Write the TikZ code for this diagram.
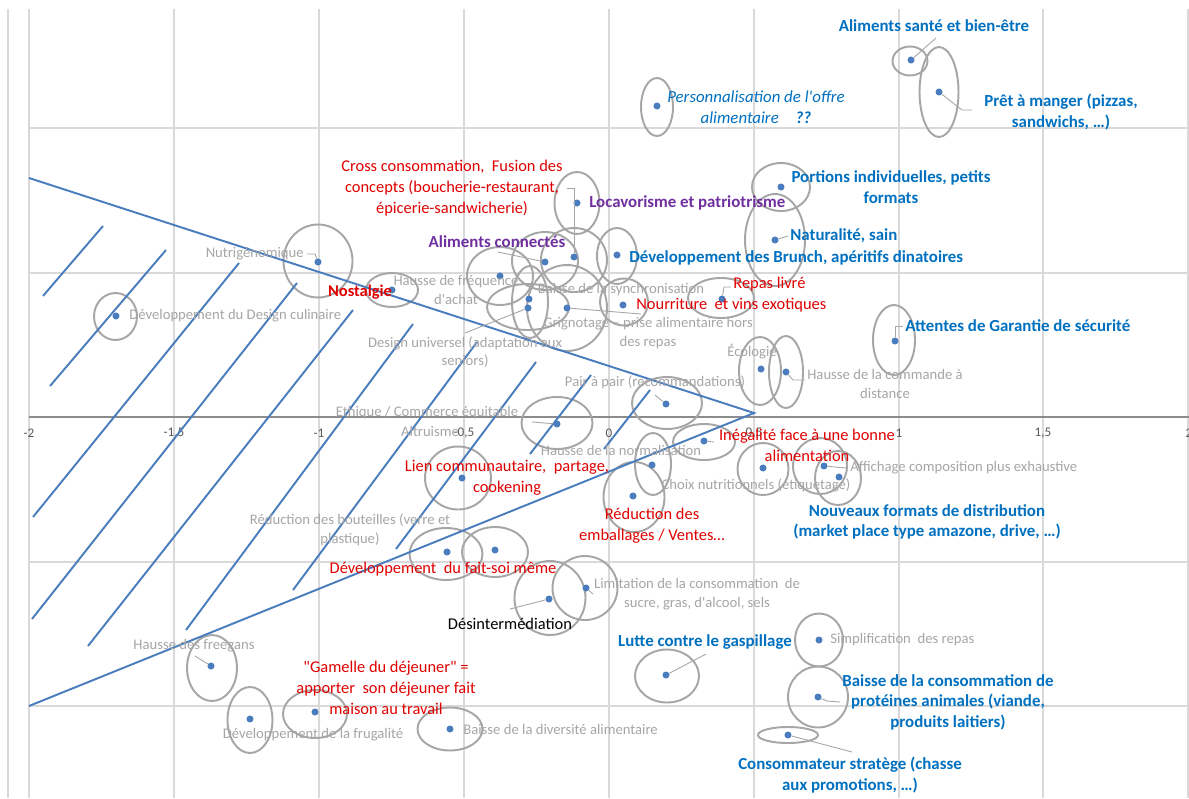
\documentclass[tikz,border=0pt]{standalone}
\usepackage{fontspec}
\setmainfont{Carlito}
\usepackage{xcolor}
\usepackage{tikz}
\usetikzlibrary{positioning}
\definecolor{gridgray}{HTML}{D9D9D9}
\definecolor{axisgray}{HTML}{8C8C8C}
\definecolor{ringgray}{HTML}{A6A6A6}
\definecolor{dotblue}{HTML}{4A7DBE}
\definecolor{trendblue}{HTML}{0070C0}
\definecolor{trendred}{HTML}{E00000}
\definecolor{trendpurple}{HTML}{7030A0}
\definecolor{labgray}{HTML}{A6A6A6}
\definecolor{ticktext}{HTML}{595959}
\tikzset{
  gridl/.style = {draw=gridgray, line width=0.6pt},
  axisl/.style = {draw=axisgray, line width=0.7pt},
  ring/.style  = {draw=ringgray, line width=1.1pt},
  hatch/.style = {draw=dotblue, line width=1.1pt},
  lead/.style  = {draw=ringgray, line width=0.5pt},
  pt/.style    = {circle, fill=dotblue, inner sep=0pt, minimum size=4pt},
  blab/.style  = {align=center, inner sep=0pt, text=trendblue,
                  font=\fontsize{9.6}{11.7}\selectfont\bfseries},
  plab/.style  = {align=center, inner sep=0pt, text=trendpurple,
                  font=\fontsize{9.6}{11.7}\selectfont\bfseries},
  rlab/.style  = {align=center, inner sep=0pt, text=trendred,
                  font=\fontsize{9.35}{11.8}\selectfont},
  klab/.style  = {align=center, inner sep=0pt, text=black,
                  font=\fontsize{9.35}{11.8}\selectfont},
  glab/.style  = {align=center, inner sep=0pt, text=labgray,
                  font=\fontsize{8.35}{10.6}\selectfont},
  tlab/.style  = {inner sep=0pt, text=ticktext, font=\fontsize{7.5}{9}\selectfont},
}

\begin{document}
\begin{tikzpicture}[x=0.02cm, y=-0.02cm]

  \path[fill=white, use as bounding box] (0,0) rectangle (1189,798);

  % grid
  \draw[gridl] (8,9) -- (8,798);
  \draw[gridl] (29,9) -- (29,798);
  \draw[gridl] (174,9) -- (174,798);
  \draw[gridl] (319,9) -- (319,798);
  \draw[gridl] (464,9) -- (464,798);
  \draw[gridl] (609,9) -- (609,798);
  \draw[gridl] (754,9) -- (754,798);
  \draw[gridl] (899,9) -- (899,798);
  \draw[gridl] (1043,9) -- (1043,798);
  \draw[gridl] (1188,9) -- (1188,798);
  \draw[gridl] (29,128) -- (1189,128);
  \draw[gridl] (29,273) -- (1189,273);
  \draw[gridl] (29,562) -- (1189,562);
  \draw[gridl] (29,706) -- (1189,706);
  \draw[axisl] (29,417) -- (1189,417);

  \node[tlab] (t1) at (29,433) {-2};
  \node[tlab] (t2) at (174,433) {-1,5};
  \node[tlab] (t3) at (319,433) {-1};
  \node[tlab] (t4) at (464,433) {-0,5};
  \node[tlab] (t5) at (609,433) {0};
  \node[tlab] (t6) at (754,433) {0,5};
  \node[tlab] (t7) at (899,433) {1};
  \node[tlab] (t8) at (1043,433) {1,5};
  \node[tlab] (t9) at (1189,433) {2};

  % ellipses
  \draw[ring] (910,61) ellipse [x radius=17.5, y radius=14.5];
  \draw[ring] (939,92) ellipse [x radius=19.5, y radius=45];
  \draw[ring] (657,107) ellipse [x radius=16, y radius=29];
  \draw[ring] (781,187) ellipse [x radius=29, y radius=24];
  \draw[ring] (775,240) ellipse [x radius=30, y radius=46];
  \draw[ring] (617,256) ellipse [x radius=20, y radius=28];
  \draw[ring] (577,203) ellipse [x radius=22.5, y radius=31];
  \draw[ring] (574,260) ellipse [x radius=33, y radius=32];
  \draw[ring] (545,261) ellipse [x radius=33, y radius=29];
  \draw[ring] (500,276) ellipse [x radius=33, y radius=29];
  \draw[ring] (318,261) ellipse [x radius=34.5, y radius=36.5];
  \draw[ring] (392,290) ellipse [x radius=26, y radius=17];
  \draw[ring] (528,307) ellipse [x radius=41, y radius=23];
  \draw[ring] (530,302) ellipse [x radius=18, y radius=36];
  \draw[ring] (567,308) ellipse [x radius=40, y radius=43];
  \draw[ring] (624,302) ellipse [x radius=24, y radius=23.5];
  \draw[ring] (721,298) ellipse [x radius=33, y radius=20];
  \draw[ring] (115.5,316.5) ellipse [x radius=21.5, y radius=23.5];
  \draw[ring] (894,340) ellipse [x radius=21, y radius=35];
  \draw[ring] (760,371) ellipse [x radius=21, y radius=34];
  \draw[ring] (786,372) ellipse [x radius=17, y radius=36];
  \draw[ring] (667,403) ellipse [x radius=35, y radius=26];
  \draw[ring] (557,423) ellipse [x radius=35.5, y radius=26];
  \draw[ring] (653,464) ellipse [x radius=18, y radius=31];
  \draw[ring] (634,497) ellipse [x radius=30.5, y radius=35];
  \draw[ring] (704,442) ellipse [x radius=31, y radius=18];
  \draw[ring] (763,469) ellipse [x radius=25.5, y radius=26];
  \draw[ring] (820,466) ellipse [x radius=27, y radius=28];
  \draw[ring] (838,478) ellipse [x radius=23, y radius=27];
  \draw[ring] (458,478) ellipse [x radius=33, y radius=31.5];
  \draw[ring] (446,554) ellipse [x radius=36.5, y radius=26];
  \draw[ring] (495,552) ellipse [x radius=33, y radius=25];
  \draw[ring] (550,598) ellipse [x radius=35.5, y radius=37];
  \draw[ring] (585,588) ellipse [x radius=32.5, y radius=32];
  \draw[ring] (667,676) ellipse [x radius=32, y radius=26.5];
  \draw[ring] (819,640) ellipse [x radius=24, y radius=26.5];
  \draw[ring] (818,697) ellipse [x radius=30, y radius=30.5];
  \draw[ring] (788,735) ellipse [x radius=30, y radius=8];
  \draw[ring] (212,668) ellipse [x radius=25, y radius=33];
  \draw[ring] (250,720) ellipse [x radius=22.5, y radius=33];
  \draw[ring] (315,714) ellipse [x radius=32, y radius=24];
  \draw[ring] (450,729) ellipse [x radius=32.5, y radius=21.5];

  % hatched zone
  \coordinate (apex) at (754,413);
  \coordinate (topleft) at (29,178);
  \coordinate (botleft) at (29,706);
  \draw[hatch] (topleft) -- (apex) -- (botleft);
  \draw[hatch] (43,296) -- (103,226);
  \draw[hatch] (50,386) -- (166,250);
  \draw[hatch] (33,517) -- (239,263);
  \draw[hatch] (32,619) -- (297,283);
  \draw[hatch] (88,646) -- (353,310);
  \draw[hatch] (186,630) -- (413,324);
  \draw[hatch] (293,590) -- (477,342);
  \draw[hatch] (396,549) -- (536,362);
  \draw[hatch] (530,454) -- (591,375);
  \draw[hatch] (604,449) -- (650,390);

  % points
  \node[pt] (sante) at (911,60) {};
  \node[pt] (pret) at (939,92) {};
  \node[pt] (perso) at (657,106) {};
  \node[pt] (portions) at (781,187) {};
  \node[pt] (natur) at (775,240) {};
  \node[pt] (brunch) at (617,255) {};
  \node[pt] (locav) at (577,203) {};
  \node[pt] (cross) at (574,257) {};
  \node[pt] (connect) at (545,262) {};
  \node[pt] (freq) at (500,276) {};
  \node[pt] (nutri) at (318,262) {};
  \node[pt] (nostal) at (392,290) {};
  \node[pt] (synchro) at (529,299) {};
  \node[pt] (design) at (528,308) {};
  \node[pt] (grign) at (567,308) {};
  \node[pt] (exot) at (623,305) {};
  \node[pt] (livre) at (722,299) {};
  \node[pt] (culin) at (116,316) {};
  \node[pt] (garant) at (895,341) {};
  \node[pt] (ecolo) at (761,369) {};
  \node[pt] (comm) at (786,372) {};
  \node[pt] (pair) at (666,404) {};
  \node[pt] (ethique) at (557,424) {};
  \node[pt] (normal) at (652,465) {};
  \node[pt] (emball) at (633,496) {};
  \node[pt] (inegal) at (704,441) {};
  \node[pt] (choix) at (763,468) {};
  \node[pt] (affich) at (824,466) {};
  \node[pt] (nouv) at (839,477) {};
  \node[pt] (lien) at (462,478) {};
  \node[pt] (bout) at (447,552) {};
  \node[pt] (fait) at (495,550) {};
  \node[pt] (desint) at (549,599) {};
  \node[pt] (limit) at (586,588) {};
  \node[pt] (gaspi) at (666,675) {};
  \node[pt] (simpl) at (819,640) {};
  \node[pt] (prot) at (818,697) {};
  \node[pt] (strat) at (788,735) {};
  \node[pt] (freeg) at (211,666) {};
  \node[pt] (frug) at (250,719) {};
  \node[pt] (gamel) at (315,712) {};
  \node[pt] (divers) at (450,729) {};

  % leaders
  \coordinate (sante-e) at (936,38);
  \coordinate (pret-e) at (972,110);
  \coordinate (natur-e) at (788,236);
  \coordinate (cross-e) at (567,188);
  \coordinate (connect-e) at (498,252);
  \coordinate (design-e) at (465,333);
  \coordinate (grign-e) at (641,314);
  \coordinate (livre-e) at (731,287);
  \coordinate (nutri-e) at (307,254);
  \coordinate (garant-e) at (903,326);
  \coordinate (comm-e) at (805,380);
  \coordinate (pair-e) at (655,395);
  \coordinate (ethique-e) at (532,422);
  \coordinate (inegal-e) at (714,442);
  \coordinate (affich-e) at (846,468);
  \coordinate (desint-e) at (510,609);
  \coordinate (limit-e) at (593,594);
  \coordinate (gaspi-e) at (706,654);
  \coordinate (prot-e) at (840,702);
  \coordinate (strat-e) at (852,752);
  \coordinate (freeg-e) at (195,656);
  \draw[lead] (sante) -- (sante-e);
  \draw[lead] (pret) -- (962,110) -- (pret-e);
  \draw[lead] (natur) -- (natur-e);
  \draw[lead] (cross) -- (574,188) -- (cross-e);
  \draw[lead] (connect) -- (connect-e);
  \draw[lead] (design) -- (design-e);
  \draw[lead] (grign) -- (grign-e);
  \draw[lead] (livre) -- (724,287) -- (livre-e);
  \draw[lead] (nutri) -- (315,254) -- (nutri-e);
  \draw[lead] (garant) -- (895,326) -- (garant-e);
  \draw[lead] (comm) -- (793,380) -- (comm-e);
  \draw[lead] (pair) -- (pair-e);
  \draw[lead] (ethique) -- (ethique-e);
  \draw[lead] (inegal) -- (inegal-e);
  \draw[lead] (affich) -- (affich-e);
  \draw[lead] (desint) -- (desint-e);
  \draw[lead] (limit) -- (limit-e);
  \draw[lead] (gaspi) -- (gaspi-e);
  \draw[lead] (prot) -- (827,701) -- (prot-e);
  \draw[lead] (strat) -- (strat-e);
  \draw[lead] (freeg) -- (freeg-e);

  % labels
  \node[blab] (l-sante) at (934,26) {Aliments santé et bien-être};
  \node[blab] (l-pret) at (1061,112) {Prêt à manger (pizzas,\\sandwichs, …)};
  \node[blab, font=\fontsize{9.6}{11.7}\selectfont\itshape]
    (l-perso) at (756,107) {Personnalisation de l\textquotesingle offre\\alimentaire\quad\textbf{??}};
  \node[blab] (l-portions) at (891,187) {Portions individuelles, petits\\formats};
  \node[blab, anchor=west] (l-natur) at (790,236) {Naturalité, sain};
  \node[blab, anchor=west] (l-brunch) at (629,258) {Développement des Brunch, apéritifs dinatoires};
  \node[blab, anchor=west] (l-garant) at (905,326) {Attentes de Garantie de sécurité};
  \node[blab] (l-nouv) at (927,522) {Nouveaux formats de distribution\\(market place type amazone, drive, …)};
  \node[blab] (l-gaspi) at (705,642) {Lutte contre le gaspillage};
  \node[blab] (l-prot) at (948,702) {Baisse de la consommation de\\protéines animales (viande,\\produits laitiers)};
  \node[blab] (l-strat) at (850,775) {Consommateur stratège (chasse\\aux promotions, …)};

  \node[plab, anchor=west] (l-locav) at (589,203) {Locavorisme et patriotrisme};
  \node[plab] (l-connect) at (497,242) {Aliments connectés};

  \node[rlab] (l-cross) at (452,188) {Cross consommation,\ \ Fusion des\\concepts (boucherie-restaurant,\\épicerie-sandwicherie)};
  \node[rlab, font=\fontsize{9.35}{11.8}\selectfont\bfseries] (l-nostal) at (360,292) {Nostalgie};
  \node[rlab, anchor=west] (l-livre) at (733,284) {Repas livré};
  \node[rlab, anchor=west] (l-exot) at (636,305) {Nourriture\ \ et vins exotiques};
  \node[rlab] (l-inegal) at (807,445) {Inégalité face à une bonne\\alimentation};
  \node[rlab] (l-lien) at (507,478) {Lien communautaire,\ \ partage,\\cookening};
  \node[rlab] (l-emball) at (652,526) {Réduction des\\emballages / Ventes…};
  \node[rlab] (l-fait) at (443,569) {Développement\ \ du fait-soi même};
  \node[rlab] (l-gamel) at (386,688) {\textquotedbl Gamelle du déjeuner\textquotedbl\ =\\apporter\ \ son déjeuner fait\\maison au travail};

  \node[klab] (l-desint) at (510,624) {Désintermédiation};

  \node[glab, anchor=east] (l-nutri) at (304,254) {Nutrigénomique};
  \node[glab, anchor=west] (l-culin) at (129,316) {Développement du Design culinaire};
  \node[glab] (l-freq) at (456,290) {Hausse de fréquence\\d\textquotesingle achat};
  \node[glab] (l-synchro) at (621,290) {Baisse de la synchronisation};
  \node[glab] (l-grign) at (648,333) {Grignotage – prise alimentaire hors\\des repas};
  \node[glab] (l-design) at (465,352) {Design universel (adaptation aux\\seniors)};
  \node[glab] (l-ecolo) at (752,352) {Écologie};
  \node[glab] (l-comm) at (885,384) {Hausse de la commande à\\distance};
  \node[glab] (l-pair) at (655,382) {Pair à pair (recommandations)};
  \node[glab] (l-ethique) at (427,413) {Ethique / Commerce équitable};
  \node[glab] (l-altru) at (430,431) {Altruisme};
  \node[glab] (l-normal) at (621,450) {Hausse de la normalisation};
  \node[glab] (l-choix) at (756,485) {Choix nutritionnels (étiquetage)};
  \node[glab, anchor=west] (l-affich) at (850,468) {Affichage composition plus exhaustive};
  \node[glab] (l-bout) at (350,530) {Réduction des bouteilles (verre et\\plastique)};
  \node[glab] (l-limit) at (697,594) {Limitation de la consommation\ \ de\\sucre, gras, d\textquotesingle alcool, sels};
  \node[glab, anchor=west] (l-simpl) at (830,640) {Simplification\ \ des repas};
  \node[glab] (l-freeg) at (194,646) {Hausse des freegans};
  \node[glab] (l-frug) at (313,735) {Développement de la frugalité};
  \node[glab, anchor=west] (l-divers) at (463,729) {Baisse de la diversité alimentaire};

\end{tikzpicture}
\end{document}
